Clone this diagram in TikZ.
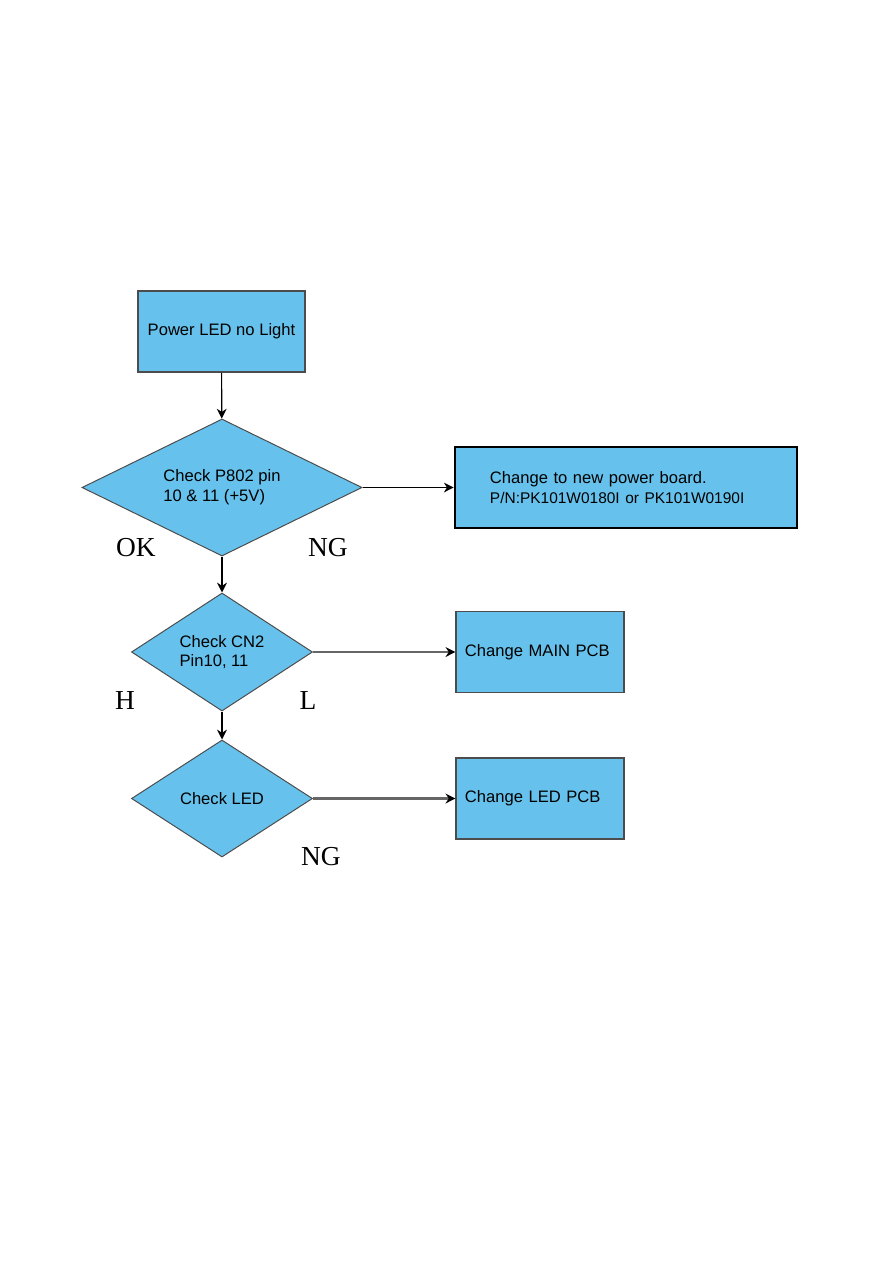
\documentclass[tikz,border=0pt]{standalone}
\usepackage{fontspec}
\setmainfont{Liberation Sans}
\newfontfamily\labelfont{Liberation Serif}
\usetikzlibrary{shapes.geometric,arrows.meta}
\definecolor{boxblue}{RGB}{102,194,236}

\begin{document}
\begin{tikzpicture}[x=0.025cm, y=-0.025cm,
    box/.style={rectangle, draw=black!70, fill=boxblue, minimum width=4.2cm, minimum height=2.025cm, align=center, font=\fontsize{11.8}{14}\selectfont, line width=0.8pt},
    dec/.style={diamond, draw=black!70, fill=boxblue, inner sep=0pt, aspect=2, align=left, font=\fontsize{11.8}{14}\selectfont, line width=0.7pt},
    lbl/.style={font=\labelfont\fontsize{19.5}{20}\selectfont},
    a/.style={-{Stealth[length=7pt,width=7pt]}, line width=0.8pt, black},
    ga/.style={-{Stealth[length=7pt,width=7pt,black]}, line width=1.5pt, black!60}
]
    \useasboundingbox[fill=white] (0,0) rectangle (893,1263);
    % main column
    \node[box, minimum width=4.175cm] (start) at (221.5,331.5) {Power LED no Light};
    \node[dec, minimum width=7cm, minimum height=3.425cm] (p802) at (222,487.5) {Check P802 pin\\10 \& 11 (+5V)};
    \node[dec, minimum width=4.525cm, minimum height=2.95cm] (cn2) at (222,652) {Check CN2\\Pin10, 11};
    \node[dec, minimum width=4.525cm, minimum height=2.925cm] (led) at (222,798.5) {Check LED};
    % actions
    \node[box, draw=black, line width=1.8pt, minimum width=8.55cm, text width=6.8cm, inner xsep=0.875cm, align=left] (power) at (626,487.5) {Change to new power board.\\{\fontsize{11}{14}\selectfont P/N:PK101W0180I or PK101W0190I}};
    \node[box, text width=3.75cm, inner xsep=0.225cm, align=left] (mainpcb) at (540,652) {Change MAIN PCB};
    \node[box, text width=3.75cm, inner xsep=0.225cm, align=left] (ledpcb) at (540,798.5) {Change LED PCB};
    % labels
    \node[lbl] (ok) at (136,548) {OK};
    \node[lbl] (ng1) at (328,548) {NG};
    \node[lbl] (hi) at (125,701) {H};
    \node[lbl] (lo) at (308,701) {L};
    \node[lbl] (ng2) at (321,857) {NG};
    % connectors
    \draw[a] (start) -- (p802);
    \draw[a] (p802) -- (cn2);
    \draw[a] (cn2) -- (led);
    \draw[a] (p802) -- (power);
    \draw[ga] (cn2) -- (mainpcb);
    \draw[ga] (led) -- (ledpcb);
\end{tikzpicture}
\end{document}
